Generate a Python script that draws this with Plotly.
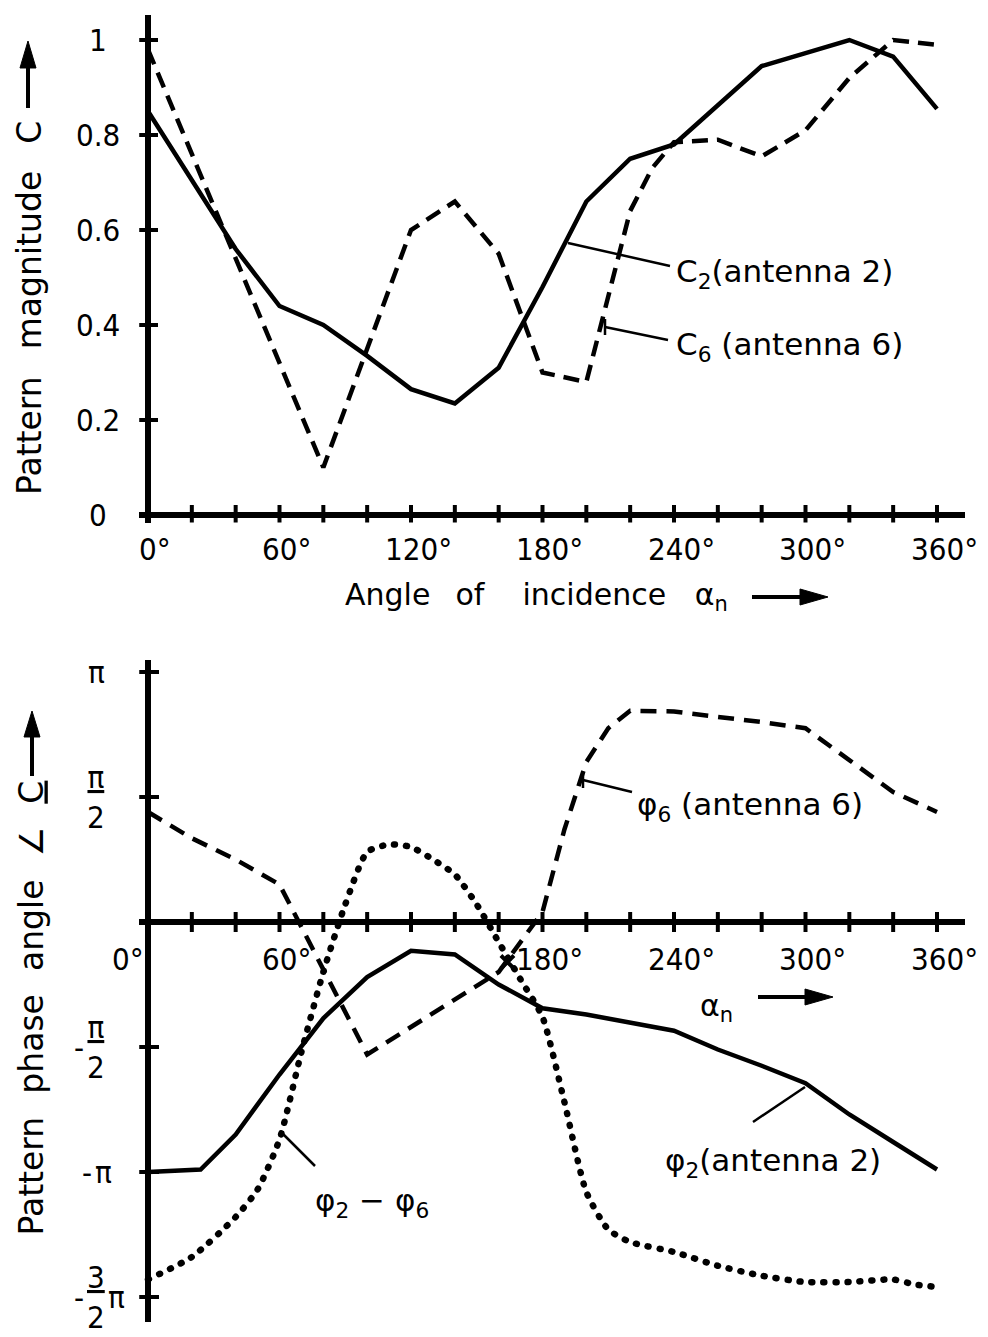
import plotly.graph_objects as go

W, H = 988, 1337

# ---------------- data : top panel (pattern magnitude C) ----------------
angle_c2 = [0, 40, 60, 80, 100, 120, 140, 160, 180, 200, 220, 240, 280, 320, 340, 360]
mag_c2 = [0.85, 0.56, 0.44, 0.40, 0.335, 0.265, 0.235, 0.31, 0.48, 0.66, 0.75, 0.78, 0.945, 1.0, 0.965, 0.855]

angle_c6 = [0, 80, 120, 140, 160, 180, 200, 210, 220, 230, 240, 260, 280, 300, 320, 340, 360]
mag_c6 = [0.98, 0.10, 0.60, 0.66, 0.55, 0.30, 0.28, 0.46, 0.64, 0.73, 0.785, 0.79, 0.755, 0.81, 0.92, 1.0, 0.99]

top_xtick_vals = [20, 40, 60, 80, 100, 120, 140, 160, 180, 200, 220, 240, 260, 280, 300, 320, 340, 360]
top_xlabel_vals = [0, 60, 120, 180, 240, 300, 360]
top_xlabel_text = ["0°", "60°", "120°", "180°", "240°", "300°", "360°"]
top_ytick_vals = [0.2, 0.4, 0.6, 0.8, 1.0]
top_ylabel_vals = [0, 0.2, 0.4, 0.6, 0.8, 1.0]
top_ylabel_text = ["0", "0.2", "0.4", "0.6", "0.8", "1"]

# ---------------- data : bottom panel (phase angle, in units of pi) ----------------
angle_phi2 = [0, 24, 40, 60, 80, 100, 120, 140, 160, 180, 200, 240, 260, 280, 300, 320, 340, 360]
phase_phi2 = [-1.0, -0.99, -0.85, -0.61, -0.385, -0.22, -0.115, -0.13, -0.25, -0.345, -0.37, -0.435, -0.51,
              -0.575, -0.645, -0.77, -0.88, -0.99]

angle_phi6 = [0, 20, 40, 60, 100, 160, 180, 190, 200, 210, 220, 240, 260, 280, 300, 320, 340, 360]
phase_phi6 = [0.44, 0.335, 0.25, 0.15, -0.53, -0.20, 0.04, 0.37, 0.64, 0.775, 0.845, 0.842, 0.82, 0.80,
              0.775, 0.65, 0.52, 0.44]

angle_diff = [0, 20, 40, 50, 60, 70, 80, 90, 100, 110, 120, 130, 140, 150, 160, 170, 180, 190, 200, 210,
              220, 240, 260, 280, 300, 320, 340, 350, 360]
phase_diff = [-1.43, -1.34, -1.18, -1.07, -0.87, -0.52, -0.2, 0.07, 0.28, 0.31, 0.30, 0.25, 0.19, 0.07,
              -0.08, -0.23, -0.38, -0.72, -1.08, -1.23, -1.28, -1.32, -1.375, -1.415, -1.44, -1.44, -1.43,
              -1.45, -1.46]

cross_angle = [164]
cross_phase = [-0.16]

bot_xtick_vals = [20, 40, 60, 80, 100, 120, 140, 160, 180, 200, 220, 240, 260, 280, 300, 320, 340, 360]
bot_xlabel_vals = [0, 60, 180, 240, 300, 360]
bot_xlabel_text = ["0°", "60°", "180°", "240°", "300°", "360°"]
bot_ytick_vals = [1.0, 0.5, -0.5, -1.0, -1.5]
bot_ytick_sign = ["", "", "-", "-", "-"]
bot_ytick_num = ["π", "π", "π", "π", "3"]
bot_ytick_den = ["", "2", "2", "", "2"]
bot_ytick_suffix = ["", "", "", "", "π"]

# ---------------- layout helpers ----------------
FONT = "DejaVu Sans"
TICKFONT = "DejaVu Sans Condensed"
X0_PX, XEND_PX, X360_PX = 148, 965, 937
DEG_PX = (X360_PX - X0_PX) / 360.0
XMIN = -4
XMAX = (XEND_PX - X0_PX) / DEG_PX
TOP_Y0_PX, TOP_UNIT_PX = 515, 475.0
BOT_Y0_PX, BOT_UNIT_PX = 922, 250.0


def px(x):
    return x / W


def py(y):
    return 1 - y / H


fig = go.Figure()

fig.add_trace(go.Scatter(x=angle_c2, y=mag_c2, mode="lines", xaxis="x", yaxis="y",
                         line=dict(color="black", width=4.5), showlegend=False))
fig.add_trace(go.Scatter(x=angle_c6, y=mag_c6, mode="lines", xaxis="x", yaxis="y",
                         line=dict(color="black", width=4.5, dash="16px,9px"), showlegend=False))

fig.add_trace(go.Scatter(x=angle_phi2, y=phase_phi2, mode="lines", xaxis="x2", yaxis="y2",
                         line=dict(color="black", width=4.5), showlegend=False))
fig.add_trace(go.Scatter(x=angle_phi6, y=phase_phi6, mode="lines", xaxis="x2", yaxis="y2",
                         line=dict(color="black", width=4.5, dash="16px,10px"), showlegend=False))
fig.add_trace(go.Scatter(x=angle_diff, y=phase_diff, mode="lines", xaxis="x2", yaxis="y2",
                         line=dict(color="black", width=6.5, dash="1px,11px", shape="spline", smoothing=0.6),
                         showlegend=False))
fig.add_trace(go.Scatter(x=cross_angle, y=cross_phase, mode="markers", xaxis="x2", yaxis="y2",
                         marker=dict(symbol="x-thin", size=13, line=dict(color="black", width=4)),
                         showlegend=False))

ax_common = dict(showgrid=False, showline=False, showticklabels=False, ticks="", automargin=False,
                 zeroline=True, zerolinewidth=6, zerolinecolor="black")

x_dom = [px(X0_PX + XMIN * DEG_PX), px(XEND_PX)]
top_ymin = -0.016
fig.update_layout(
    width=W, height=H, margin=dict(l=0, r=0, t=0, b=0, autoexpand=False),
    paper_bgcolor="white", plot_bgcolor="white",
    font=dict(family=FONT, color="black", size=28),
    xaxis=dict(domain=x_dom, range=[XMIN, XMAX], anchor="y", **ax_common),
    yaxis=dict(domain=[py(TOP_Y0_PX - top_ymin * TOP_UNIT_PX), py(15)],
               range=[top_ymin, (TOP_Y0_PX - 15) / TOP_UNIT_PX], anchor="x", **ax_common),
    xaxis2=dict(domain=x_dom, range=[XMIN, XMAX], anchor="y2", **ax_common),
    yaxis2=dict(domain=[py(1322), py(660)],
                range=[-(1322 - BOT_Y0_PX) / BOT_UNIT_PX, (BOT_Y0_PX - 660) / BOT_UNIT_PX],
                anchor="x2", **ax_common),
)

shapes = []
TK = dict(color="black", width=4)
for v in top_xtick_vals:
    shapes.append(dict(type="line", xref="x", yref="y", x0=v, x1=v, ysizemode="pixel", yanchor=0,
                       y0=-10, y1=10, line=TK))
for v in top_ytick_vals:
    shapes.append(dict(type="line", xref="x", yref="y", y0=v, y1=v, xsizemode="pixel", xanchor=0,
                       x0=-10, x1=10, line=TK))
for v in bot_xtick_vals:
    shapes.append(dict(type="line", xref="x2", yref="y2", x0=v, x1=v, ysizemode="pixel", yanchor=0,
                       y0=-10, y1=10, line=TK))
for v in bot_ytick_vals:
    shapes.append(dict(type="line", xref="x2", yref="y2", y0=v, y1=v, xsizemode="pixel", xanchor=0,
                       x0=-11, x1=11, line=TK))


def seg(x0, y0, x1, y1, w=2.5):
    shapes.append(dict(type="line", xref="paper", yref="paper", x0=px(x0), y0=py(y0), x1=px(x1), y1=py(y1),
                       line=dict(color="black", width=w)))


def arrow(tx, ty, hx, hy, head=28, half=8, w=4):
    # straight horizontal (right) or vertical (up) arrow with a filled head
    if hy == ty:
        seg(tx, ty, hx - head + 2, hy, w)
        pts = [(hx, hy), (hx - head, hy - half), (hx - head, hy + half)]
    else:
        seg(tx, ty, hx, hy + head - 2, w)
        pts = [(hx, hy), (hx - half, hy + head), (hx + half, hy + head)]
    path = "M " + " L ".join("%.5f,%.5f" % (px(a), py(b)) for a, b in pts) + " Z"
    shapes.append(dict(type="path", xref="paper", yref="paper", path=path,
                       fillcolor="black", line=dict(color="black", width=1)))


# axis-title arrows
arrow(28, 108, 28, 41, head=27, half=8)
arrow(752, 597, 828, 597, head=28, half=8)
arrow(32, 776, 32, 711, head=26, half=8)
arrow(758, 997, 833, 997, head=28, half=8)

# leader lines of the curve labels
seg(568, 243, 670, 266)
seg(605, 327, 668, 340)
seg(605, 319, 605, 335)
seg(583, 780, 632, 792)
seg(583, 772, 583, 788)
seg(805, 1087, 753, 1122)
seg(280, 1131, 315, 1166)

fig.update_layout(shapes=shapes)

ann = []


def text_ann(x, y, text, size=30, xanchor="left", yanchor="middle", angle=0, family=FONT):
    ann.append(dict(xref="paper", yref="paper", x=px(x), y=py(y), text=text, showarrow=False,
                    xanchor=xanchor, yanchor=yanchor, textangle=angle,
                    font=dict(family=family, size=size, color="black")))


# axis titles
text_ann(29, 497, "Pattern\u2002 magnitude\u2002 C", size=33, xanchor="center", yanchor="bottom", angle=-90)
text_ann(343, 597, "Angle  \u2009of    incidence   α<sub>n</sub>", size=30)
text_ann(31, 1238,
         "Pattern\u2002\u2009phase\u2002\u2009angle\u2002\u2009∠\u2002\u2009"
         "<span style='text-decoration:underline'>C</span>",
         size=33, xanchor="center", yanchor="bottom", angle=-90)
text_ann(698, 1007, "α<sub>n</sub>", size=30)

# curve labels
text_ann(674, 273, "C<sub>2</sub>(antenna 2)", size=31)
text_ann(674, 346, "C<sub>6</sub> (antenna 6)", size=31)
text_ann(635, 806, "φ<sub>6</sub> (antenna 6)", size=31)
text_ann(663, 1162, "φ<sub>2</sub>(antenna 2)", size=31)
text_ann(313, 1202, "φ<sub>2</sub> − φ<sub>6</sub>", size=31)

fig.update_layout(annotations=ann)

TF = dict(family=TICKFONT, size=31, color="black")
# top tick labels
for v, t in zip(top_xlabel_vals, top_xlabel_text):
    fig.add_annotation(xref="x", yref="y", x=v, y=0, text=t, showarrow=False, xanchor="center",
                       yanchor="middle", yshift=-34, xshift=7, font=TF)
for v, t in zip(top_ylabel_vals, top_ylabel_text):
    fig.add_annotation(xref="paper", yref="y", x=px(98), y=v, text=t, showarrow=False, xanchor="center",
                       yanchor="middle", font=TF)

# bottom x tick labels (below the zero line)
for v, t in zip(bot_xlabel_vals, bot_xlabel_text):
    fig.add_annotation(xref="x2", yref="y2", x=v, y=0, text=t, showarrow=False, xanchor="center",
                       yanchor="middle", yshift=-37, xshift=(-20 if v == 0 else 7), font=TF)

# bottom y tick labels (pi fractions)
for v, s, n, d, suf in zip(bot_ytick_vals, bot_ytick_sign, bot_ytick_num, bot_ytick_den, bot_ytick_suffix):
    if d:
        body = "<span style='text-decoration:underline'>" + n + "</span><br>" + d
    else:
        body = n
    cx = 96 if not (s and not d) else 103
    fig.add_annotation(xref="paper", yref="y2", x=px(cx), y=v, text=body, showarrow=False,
                       xanchor="center", yanchor="middle", font=TF)
    if s:
        fig.add_annotation(xref="paper", yref="y2", x=px(86 if d else 94), y=v, text=s, showarrow=False,
                           xanchor="right", yanchor="middle", font=TF)
    if suf:
        fig.add_annotation(xref="paper", yref="y2", x=px(106), y=v, text=suf, showarrow=False,
                           xanchor="left", yanchor="middle", font=TF)

post = """
document.body.style.margin = '0';
function fixDots() {
  document.querySelectorAll('path.js-line').forEach(function (p) {
    var d = p.style.strokeDasharray || '';
    if (d.indexOf('1px') === 0 && d.indexOf('11px') > 0) { p.style.strokeLinecap = 'round'; }
  });
}
fixDots();
setTimeout(fixDots, 0);
var gdd = document.getElementById('{plot_id}');
if (gdd && gdd.on) { gdd.on('plotly_afterplot', fixDots); }
"""

fig.write_html("out.html", post_script=post, config={"displayModeBar": False})
